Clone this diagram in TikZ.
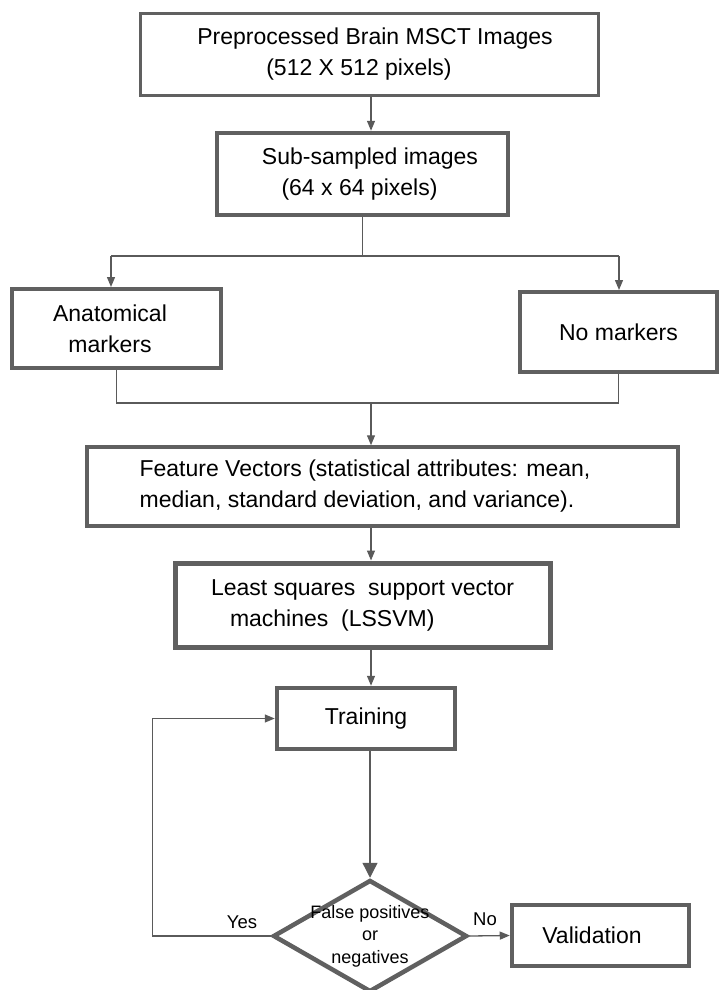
\documentclass[tikz,border=0pt]{standalone}
\usepackage{fontspec}
\setmainfont{Liberation Sans}
\usetikzlibrary{shapes.geometric,arrows.meta}
\definecolor{bordergray}{HTML}{606060}
\definecolor{linegray}{HTML}{5A5A5A}
\begin{document}
\begin{tikzpicture}[x=1pt,y=-1pt,
  box/.style={draw=bordergray,line width=4pt,fill=white,inner sep=0pt,font=\fontsize{23}{31}\selectfont},
  conn/.style={draw=linegray,line width=1.3pt},
  arr/.style={conn,-{Triangle[length=10pt,width=8pt]}},
  bigarr/.style={conn,-{Triangle[length=15pt,width=15pt]}},
  lbl/.style={font=\fontsize{18.5}{22}\selectfont,inner sep=0pt}
]
\useasboundingbox (0,0) rectangle (719,990);

\node[box,line width=3pt,minimum width=458pt,minimum height=81pt,align=center] (pre) at (369,54.5)
  {\hspace*{12pt}Preprocessed Brain MSCT Images\\(512 X 512 pixels)\hspace*{20pt}};
\node[box,line width=4.5pt,minimum width=291pt,minimum height=82pt,align=center] (sub) at (362.5,174)
  {\hspace*{15pt}Sub-sampled images\\(64 x 64 pixels)\hspace*{6pt}};
\node[box,minimum width=209pt,minimum height=79pt,align=center] (anat) at (116.5,328.5)
  {Anatomical\hspace*{13pt}\\markers\hspace*{13pt}};
\node[box,minimum width=197pt,minimum height=80pt] (nom) at (618.5,332) {No markers};
\node[box,line width=3.5pt,minimum width=591pt,minimum height=79pt,align=left] (feat) at (382.5,486.5)
  {Feature Vectors (statistical attributes: mean,\hspace*{35pt}\\median, standard deviation, and variance).};
\node[box,line width=5pt,minimum width=375pt,minimum height=84pt,align=left] (ls) at (362.5,605)
  {Least squares\ \ support vector\\\hspace*{19pt}machines\ \ (LSSVM)};
\node[box,line width=4.5pt,minimum width=178pt,minimum height=61pt] (train) at (366,718.5) {Training};
\node[draw=bordergray,line width=4.5pt,diamond,minimum width=194pt,minimum height=112pt,inner sep=0pt,fill=white,
  label={[align=center,inner sep=0pt,font=\fontsize{18}{22.5}\selectfont]center:False positives\\or\\negatives}] (dec) at (370,936) {};
\node[box,line width=4.5pt,minimum width=177pt,minimum height=61pt] (val) at (600.5,935.5) {Validation\hspace*{17pt}};

\coordinate (sl) at (111,256);
\coordinate (sr) at (619,256);
\coordinate (mg) at (371,403);

\draw[arr] (pre.south -| mg) -- (mg |- sub.north);
\draw[conn] (sub.south) -- (sub.south |- sl);
\draw[conn] (sl) -- (sr);
\draw[arr] (sl) -- (sl |- anat.north);
\draw[arr] (sr) -- (sr |- nom.north);
\draw[conn] (anat.south) |- (mg) -| (nom.south);
\draw[arr] (mg) -- (mg |- feat.north);
\draw[arr] (mg |- feat.south) -- (mg |- ls.north);
\draw[arr] (mg |- ls.south) -- (mg |- train.north);
\draw[bigarr] (dec.north |- train.south) -- (dec.north);
\draw[arr] (dec.west) -- ++(-118,0) |- (train.west);
\draw[arr] (dec.east) -- (val.west);

\node[lbl] (yes) at (242,922) {Yes};
\node[lbl] (no) at (485,919) {No};
\end{tikzpicture}
\end{document}
